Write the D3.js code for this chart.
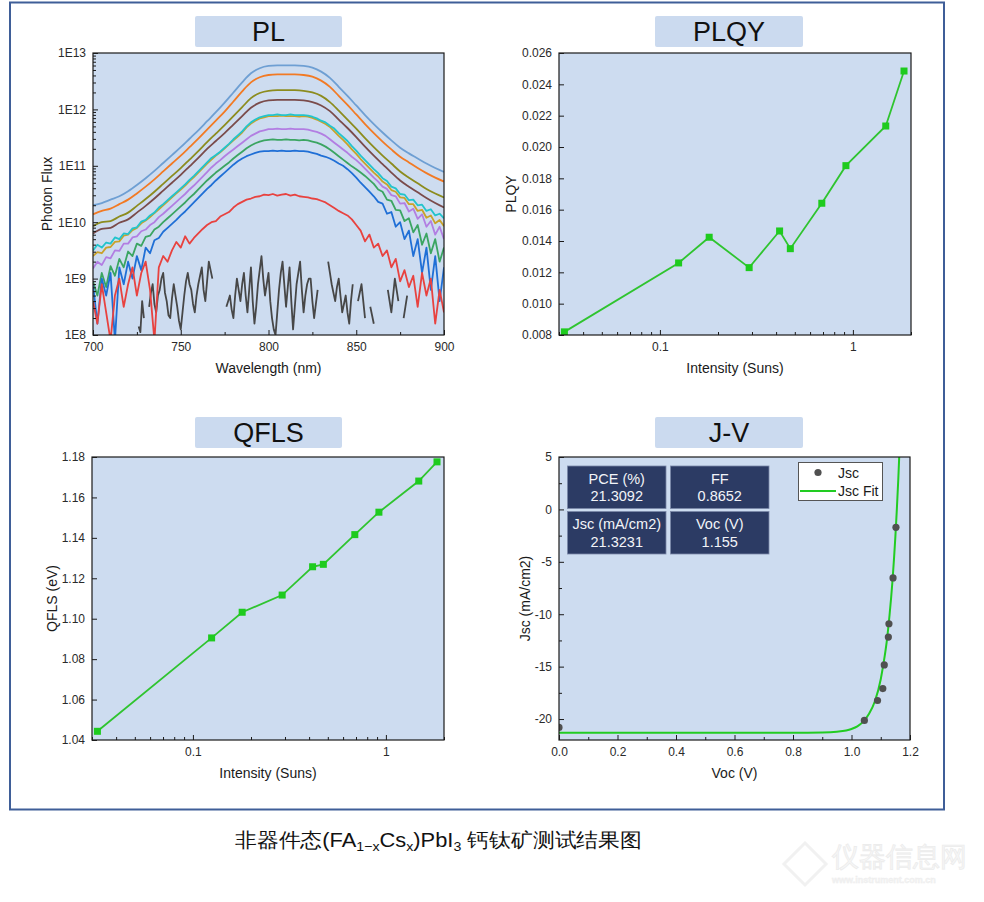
<!DOCTYPE html>
<html><head><meta charset="utf-8">
<script src="https://cdn.jsdelivr.net/npm/d3@7"></script>
<style>
html,body{margin:0;padding:0;background:#fff;}
svg{display:block;}
text{font-family:"Liberation Sans",Arial,sans-serif;}
</style></head><body>
<script>
// ---------------- DATA ----------------
const panelTitles = ["PL", "PLQY", "QFLS", "J-V"];

// PL spectra: wavelength grids (nm) and log10(photon flux)
const plWl5 = [700,705,710,715,720,725,730,735,740,745,750,755,760,765,770,775,780,785,790,795,800,805,810,815,820,825,830,835,840,845,850,855,860,865,870,875,880,885,890,895,900];
const plWl25 = [700,702.5,705,707.5,710,712.5,715,717.5,720,722.5,725,727.5,730,732.5,735,737.5,740,742.5,745,747.5,750,752.5,755,757.5,760,762.5,765,767.5,770,772.5,775,777.5,780,782.5,785,787.5,790,792.5,795,797.5,800,802.5,805,807.5,810,812.5,815,817.5,820,822.5,825,827.5,830,832.5,835,837.5,840,842.5,845,847.5,850,852.5,855,857.5,860,862.5,865,867.5,870,872.5,875,877.5,880,882.5,885,887.5,890,892.5,895,897.5,900];
const plWlDark = [724,725,726,727,728,729,730,731,732,733,734,735,736,737,738,739,740,741,742,743,744,745,746,747,748,749,750,751,752,753,754,755,756,757,758,759,760,761,762,763,764,765,766,767,768,769,770,771,772,773,774,775,776,777,778,779,780,781,782,783,784,785,786,787,788,789,790,791,792,793,794,795,796,797,798,799,800,801,802,803,804,805,806,807,808,809,810,811,812,813,814,815,816,817,818,819,820,821,822,823,824,825,826,827,828,829,830,831,832,833,834,835,836,837,838,839,840,841,842,843,844,845,846,847,848,849,850,851,852,853,854,855,856,857,858,859,860,861,862,863,864,865,866,867,868,869,870,871,872,873,874,875,876,877,878,879,880,881,882];

const plLightBlue = [10.30,10.34,10.40,10.46,10.55,10.66,10.78,10.91,11.05,11.19,11.33,11.48,11.63,11.79,11.95,12.12,12.30,12.48,12.64,12.73,12.77,12.78,12.78,12.78,12.77,12.74,12.67,12.56,12.40,12.24,12.07,11.90,11.74,11.59,11.45,11.32,11.22,11.13,11.04,10.96,10.89];
const plOrange = [10.14,10.20,10.24,10.32,10.40,10.51,10.63,10.76,10.90,11.04,11.18,11.33,11.48,11.64,11.80,11.96,12.14,12.32,12.48,12.57,12.61,12.62,12.62,12.62,12.61,12.58,12.51,12.40,12.24,12.08,11.91,11.74,11.58,11.43,11.29,11.16,11.06,10.96,10.87,10.79,10.72];
const plOlive = [9.93,10.00,10.02,10.10,10.17,10.29,10.41,10.54,10.68,10.82,10.96,11.11,11.26,11.42,11.57,11.72,11.88,12.04,12.20,12.29,12.33,12.34,12.34,12.34,12.33,12.30,12.24,12.13,11.98,11.82,11.66,11.49,11.33,11.18,11.04,10.90,10.79,10.69,10.59,10.51,10.44];
const plBrown = [9.80,9.88,9.90,9.99,10.05,10.17,10.29,10.42,10.56,10.70,10.84,10.99,11.14,11.30,11.44,11.58,11.73,11.88,12.03,12.12,12.16,12.17,12.17,12.17,12.16,12.13,12.07,11.97,11.82,11.67,11.51,11.34,11.18,11.03,10.88,10.74,10.63,10.53,10.43,10.34,10.26];

const plCyan = [9.50,9.60,9.55,9.64,9.62,9.73,9.70,9.80,9.79,9.89,
 9.91,10.01,10.04,10.12,10.17,10.26,10.32,10.39,10.46,10.53,
 10.60,10.67,10.75,10.82,10.90,10.98,11.06,11.14,11.19,11.25,
 11.32,11.39,11.47,11.54,11.61,11.70,11.77,11.82,11.86,11.88,
 11.90,11.90,11.91,11.90,11.90,11.91,11.90,11.90,11.90,11.89,
 11.87,11.84,11.80,11.77,11.71,11.66,11.58,11.51,11.44,11.35,
 11.27,11.18,11.10,11.02,10.94,10.87,10.78,10.73,10.63,10.60,
 10.50,10.49,10.39,10.40,10.30,10.31,10.20,10.23,10.12,10.15,
 10.07];
const plGold = [9.40,9.47,9.45,9.55,9.56,9.65,9.66,9.76,9.78,9.86,
 9.90,9.98,10.03,10.09,10.16,10.23,10.30,10.37,10.44,10.51,
 10.58,10.65,10.73,10.80,10.88,10.96,11.04,11.11,11.18,11.24,
 11.31,11.38,11.45,11.52,11.59,11.68,11.75,11.80,11.84,11.86,
 11.88,11.88,11.88,11.89,11.88,11.88,11.88,11.87,11.88,11.87,
 11.85,11.82,11.78,11.74,11.69,11.61,11.53,11.46,11.38,11.29,
 11.21,11.12,11.04,10.96,10.88,10.81,10.72,10.67,10.57,10.54,
 10.44,10.43,10.32,10.32,10.20,10.22,10.08,10.12,9.98,10.04,
 9.93];
const plPurple = [9.18,9.30,9.24,9.38,9.36,9.50,9.49,9.62,9.62,9.73,
 9.75,9.84,9.87,9.95,10.00,10.09,10.15,10.22,10.29,10.36,
 10.43,10.50,10.58,10.65,10.73,10.81,10.89,10.97,11.04,11.10,
 11.17,11.23,11.29,11.35,11.41,11.47,11.53,11.57,11.61,11.63,
 11.65,11.65,11.66,11.65,11.65,11.66,11.65,11.65,11.65,11.64,
 11.62,11.60,11.57,11.53,11.47,11.41,11.35,11.29,11.23,11.16,
 11.10,11.03,10.95,10.87,10.79,10.72,10.63,10.59,10.48,10.46,
 10.33,10.34,10.19,10.24,10.06,10.14,9.92,10.02,9.78,9.92,
 9.70];
const plGreen = [8.95,8.70,9.10,8.85,9.22,9.05,9.35,9.20,9.48,9.40,
 9.62,9.58,9.74,9.76,9.87,9.92,10.00,10.07,10.14,10.21,
 10.28,10.35,10.43,10.50,10.58,10.66,10.74,10.81,10.88,10.94,
 11.00,11.06,11.13,11.19,11.25,11.31,11.36,11.40,11.43,11.45,
 11.46,11.47,11.46,11.46,11.47,11.46,11.46,11.45,11.46,11.45,
 11.43,11.41,11.38,11.34,11.29,11.23,11.17,11.11,11.05,10.99,
 10.94,10.88,10.82,10.75,10.68,10.58,10.54,10.40,10.38,10.22,
 10.21,10.02,10.07,9.82,9.95,9.60,9.80,9.45,9.70,9.30,
 9.55];
const plBlue = [8.90,8.20,9.00,8.70,9.10,7.90,9.20,8.90,9.30,9.00,
 9.40,9.15,9.55,9.45,9.68,9.72,9.83,9.90,9.97,10.04,
 10.12,10.19,10.27,10.35,10.43,10.51,10.59,10.66,10.74,10.81,
 10.88,10.95,11.02,11.08,11.13,11.17,11.20,11.23,11.25,11.26,
 11.26,11.27,11.26,11.27,11.26,11.26,11.27,11.26,11.26,11.25,
 11.23,11.21,11.18,11.16,11.13,11.09,11.04,11.00,10.94,10.87,
 10.79,10.70,10.62,10.54,10.46,10.36,10.33,10.15,10.18,9.92,
 10.00,9.70,9.85,9.40,9.70,9.10,9.55,8.80,9.40,8.60,
 9.20];
const plRed = [8.60,8.20,8.90,8.40,7.90,8.70,9.00,8.50,8.90,9.20,
 8.70,9.10,9.30,8.80,7.90,9.20,9.40,9.30,9.50,9.65,
 9.55,9.75,9.62,9.72,9.80,9.88,9.95,10.00,10.02,10.10,
 10.14,10.18,10.26,10.32,10.36,10.40,10.42,10.45,10.46,10.49,
 10.48,10.50,10.47,10.49,10.50,10.47,10.49,10.46,10.45,10.44,
 10.42,10.41,10.38,10.35,10.30,10.25,10.20,10.16,10.12,10.05,
 9.95,9.85,9.66,9.78,9.55,9.62,9.40,9.50,9.20,9.35,
 8.95,9.15,8.85,9.05,8.50,9.10,8.70,9.00,8.20,8.80,
 8.40];
// dark (no-excitation) trace: 1 nm steps, gaps where the trace drops out
const plDark = [null,null,8.15,8.05,8.60,8.30,null,null,8.50,8.75,
 8.90,8.55,8.40,8.70,8.80,9.00,9.10,8.75,8.60,8.35,
 8.30,8.65,8.90,8.70,8.50,8.25,8.10,8.40,8.70,8.95,
 9.10,8.90,8.80,8.55,8.40,8.70,8.90,9.05,9.20,8.80,
 8.60,8.95,9.30,9.15,9.00,null,null,null,8.80,null,
 null,null,8.50,8.60,8.70,8.45,8.30,8.70,9.00,8.80,
 8.60,8.90,9.10,8.70,8.40,8.80,9.20,8.60,8.20,8.50,
 8.90,9.15,9.40,9.00,8.70,8.90,9.10,8.60,8.30,8.10,
 8.00,8.40,8.80,9.10,9.30,8.90,8.50,8.85,9.20,8.60,
 8.10,8.50,8.90,9.10,9.30,8.80,8.40,8.70,8.90,9.00,
 9.00,8.60,8.30,8.55,8.80,null,null,null,null,null,
 9.30,9.10,8.90,8.75,8.60,8.85,9.00,8.70,8.40,8.55,
 8.70,8.40,8.20,8.60,8.90,null,null,8.60,8.75,8.90,
 8.60,8.30,null,null,8.50,8.35,8.20,null,null,null,
 null,null,null,null,8.80,8.60,8.40,8.70,9.00,8.80,
 8.60,null,null,8.30,8.50,8.70,null,null,null];

const plXTicks = [700,750,800,850,900];
const plXTickLabels = ["700","750","800","850","900"];
const plXMinor = [725,775,825,875];
const plYTicks = [1e8,1e9,1e10,1e11,1e12,1e13];
const plYTickLabels = ["1E8","1E9","1E10","1E11","1E12","1E13"];

// PLQY & QFLS vs intensity
const intensitySuns = [0.032,0.125,0.18,0.29,0.417,0.474,0.69,0.92,1.48,1.84];
const plqyValues = [0.0082,0.0126,0.01424,0.0123,0.01464,0.01351,0.01641,0.01881,0.02134,0.02485];
const qflsValues = [1.0443,1.0905,1.1032,1.1117,1.1257,1.1269,1.1416,1.1527,1.1681,1.1776];
const intTicks = [0.1,1];
const intTickLabels = ["0.1","1"];
const intMinor = [0.03,0.04,0.05,0.06,0.07,0.08,0.09,0.2,0.3,0.4,0.5,0.6,0.7,0.8,0.9,2];
const plqyTicks = [0.008,0.010,0.012,0.014,0.016,0.018,0.020,0.022,0.024,0.026];
const plqyTickLabels = ["0.008","0.010","0.012","0.014","0.016","0.018","0.020","0.022","0.024","0.026"];
const qflsTicks = [1.04,1.06,1.08,1.10,1.12,1.14,1.16,1.18];
const qflsTickLabels = ["1.04","1.06","1.08","1.10","1.12","1.14","1.16","1.18"];

// J-V
const jscV = [0.0,1.044,1.089,1.107,1.112,1.126,1.128,1.142,1.152];
const jscJ = [-20.8,-20.13,-18.23,-17.09,-14.84,-12.18,-10.91,-6.54,-1.71];
const fitV = [0,0.2,0.4,0.6,0.8,0.9,0.95,1.0,1.02,1.04,1.06,1.08,1.10,1.11,1.12,1.13,1.14,1.15,1.155,1.16,1.165];
const fitJ = [-21.32,-21.32,-21.32,-21.32,-21.32,-21.29,-21.21,-20.95,-20.70,-20.25,-19.50,-18.30,-16.20,-14.60,-12.70,-10.10,-6.85,-2.60,0,2.90,6.30];
const jvXTicks = [0,0.2,0.4,0.6,0.8,1.0,1.2];
const jvXTickLabels = ["0.0","0.2","0.4","0.6","0.8","1.0","1.2"];
const jvXMinor = [0.1,0.3,0.5,0.7,0.9,1.1];
const jvYTicks = [5,0,-5,-10,-15,-20];
const jvYTickLabels = ["5","0","-5","-10","-15","-20"];
const jvYMinor = [2.5,-2.5,-7.5,-12.5,-17.5];
const infoLabels = ["PCE (%)","FF","Jsc (mA/cm2)","Voc (V)"];
const infoValues = ["21.3092","0.8652","21.3231","1.155"];
const legendLabels = ["Jsc","Jsc Fit"];

// ---------------- DRAWING ----------------
const BG = "#cddcf0";
const svg = d3.select("body").append("svg").attr("width",984).attr("height",902);

svg.append("rect").attr("x",10).attr("y",2.5).attr("width",934).attr("height",807)
  .attr("fill","none").attr("stroke","#3f5e98").attr("stroke-width",2);

// title boxes
const titleBoxes = [[195,16,147],[655,16,148],[195,417,147],[655,417,148]];
titleBoxes.forEach((b,i)=>{
  svg.append("rect").attr("x",b[0]).attr("y",b[1]).attr("width",b[2]).attr("height",31)
    .attr("rx",2).attr("fill","#cbdaef");
  svg.append("text").attr("x",b[0]+b[2]/2).attr("y",b[1]+25).attr("text-anchor","middle")
    .attr("font-size",27).attr("fill","#111").text(panelTitles[i]);
});

function plotArea(id,x0,y0,w,h){
  svg.append("rect").attr("x",x0).attr("y",y0).attr("width",w).attr("height",h).attr("fill",BG);
  svg.append("clipPath").attr("id",id).append("rect").attr("x",x0).attr("y",y0).attr("width",w).attr("height",h);
  return svg.append("g").attr("clip-path",`url(#${id})`);
}
function frameAndAxes(p){
  svg.append("rect").attr("x",p.x0).attr("y",p.y0).attr("width",p.w).attr("height",p.h)
    .attr("fill","none").attr("stroke","#1a1a1a").attr("stroke-width",1.2);
  const style = g=>{g.select(".domain").remove();
    g.selectAll("line").attr("stroke","#1a1a1a");
    g.selectAll("text").attr("font-size",12).attr("fill","#2a2a2a").attr("font-family","Liberation Sans, Arial, sans-serif");};
  svg.append("g").attr("transform",`translate(0,${p.y0+p.h})`)
    .call(d3.axisBottom(p.xs).tickValues(p.xt).tickFormat((d,i)=>p.xl[i]).tickSize(-5).tickPadding(7)).call(style);
  if(p.xm) svg.append("g").attr("transform",`translate(0,${p.y0+p.h})`)
    .call(d3.axisBottom(p.xs).tickValues(p.xm).tickFormat("").tickSize(-3)).call(style);
  svg.append("g").attr("transform",`translate(${p.x0},0)`)
    .call(d3.axisLeft(p.ys).tickValues(p.yt).tickFormat((d,i)=>p.yl[i]).tickSize(-5).tickPadding(7)).call(style);
  if(p.ym) svg.append("g").attr("transform",`translate(${p.x0},0)`)
    .call(d3.axisLeft(p.ys).tickValues(p.ym).tickFormat("").tickSize(-3)).call(style);
  svg.append("text").attr("x",p.x0+p.w/2).attr("y",p.y0+p.h+38).attr("text-anchor","middle")
    .attr("font-size",14).attr("fill","#1a1a1a").text(p.xTitle);
  svg.append("text").attr("transform",`translate(${p.yTitleX},${p.y0+p.h/2}) rotate(-90)`)
    .attr("text-anchor","middle").attr("font-size",14).attr("fill","#1a1a1a").text(p.yTitle);
}

// ---- PL ----
{
  const x0=93,y0=53,w=351,h=282;
  const xs=d3.scaleLinear([700,900],[x0,x0+w]);
  const ys=d3.scaleLog([1e8,1e13],[y0+h,y0]);
  const g=plotArea("clipPL",x0,y0,w,h);
  const mk=(wl,vals,curve)=>{const l=d3.line().defined(d=>d[1]!=null)
      .x(d=>xs(d[0])).y(d=>ys(Math.pow(10,d[1])));
    if(curve) l.curve(curve); return l(wl.map((v,i)=>[v,vals[i]]));};
  const series=[
    [plWlDark,plDark,"#474747",null],
    [plWl5,plLightBlue,"#6e9fd3",d3.curveMonotoneX],
    [plWl5,plOrange,"#f27a24",d3.curveMonotoneX],
    [plWl5,plOlive,"#8c8c1e",d3.curveMonotoneX],
    [plWl5,plBrown,"#7a4b4b",d3.curveMonotoneX],
    [plWl25,plGold,"#c9a22a",null],
    [plWl25,plCyan,"#22c4cc",null],
    [plWl25,plPurple,"#b27ee2",null],
    [plWl25,plGreen,"#3ba562",null],
    [plWl25,plBlue,"#1f6fd6",null],
    [plWl25,plRed,"#e8423f",null]
  ];
  series.forEach(s=>{
    g.append("path").attr("d",mk(s[0],s[1],s[3])).attr("fill","none").attr("stroke",s[2])
      .attr("stroke-width",1.8).attr("stroke-linejoin","round");
  });
  const yMinor=[];
  plYTicks.slice(0,-1).forEach(t=>{for(let k=2;k<=9;k++) yMinor.push(t*k);});
  frameAndAxes({x0,y0,w,h,xs,ys,xt:plXTicks,xl:plXTickLabels,xm:plXMinor,yt:plYTicks,yl:plYTickLabels,ym:yMinor,
    xTitle:"Wavelength (nm)",yTitle:"Photon Flux",yTitleX:52});
}

// ---- PLQY & QFLS ----
function intensityPanel(id,x0,y0,w,h,vals,dom,yt,yl,yTitle,yTitleX){
  const xs=d3.scaleLog([0.03,2],[x0,x0+w]);
  const ys=d3.scaleLinear(dom,[y0+h,y0]);
  const g=plotArea(id,x0,y0,w,h);
  const pts=intensitySuns.map((v,i)=>[v,vals[i]]);
  g.append("path").attr("d",d3.line().x(d=>xs(d[0])).y(d=>ys(d[1]))(pts))
    .attr("fill","none").attr("stroke","#2fc42f").attr("stroke-width",1.8);
  g.selectAll(".m").data(pts).join("rect").attr("x",d=>xs(d[0])-3.5).attr("y",d=>ys(d[1])-3.5)
    .attr("width",7).attr("height",7).attr("fill","#1ecb1e");
  frameAndAxes({x0,y0,w,h,xs,ys,xt:intTicks,xl:intTickLabels,xm:intMinor,yt,yl,
    xTitle:"Intensity (Suns)",yTitle,yTitleX});
}
intensityPanel("clipPLQY",559,53,352,282,plqyValues,[0.008,0.026],plqyTicks,plqyTickLabels,"PLQY",516);
intensityPanel("clipQFLS",92,457,352,283,qflsValues,[1.04,1.18],qflsTicks,qflsTickLabels,"QFLS (eV)",57);

// ---- J-V ----
{
  const x0=559,y0=457,w=351,h=283;
  const xs=d3.scaleLinear([0,1.2],[x0,x0+w]);
  const ys=d3.scaleLinear([-22,5],[y0+h,y0]);
  const g=plotArea("clipJV",x0,y0,w,h);
  g.append("path").attr("d",d3.line().curve(d3.curveMonotoneX).x(d=>xs(d[0])).y(d=>ys(d[1]))(fitV.map((v,i)=>[v,fitJ[i]])))
    .attr("fill","none").attr("stroke","#22cc22").attr("stroke-width",2);
  g.selectAll(".p").data(jscV.map((v,i)=>[v,jscJ[i]])).join("circle")
    .attr("cx",d=>xs(d[0])).attr("cy",d=>ys(d[1])).attr("r",3.6).attr("fill","#505050");
  frameAndAxes({x0,y0,w,h,xs,ys,xt:jvXTicks,xl:jvXTickLabels,xm:jvXMinor,yt:jvYTicks,yl:jvYTickLabels,ym:jvYMinor,
    xTitle:"Voc (V)",yTitle:"Jsc (mA/cm2)",yTitleX:530});
  // info boxes
  const boxes=[[567.5,466],[670.5,466],[567.5,511.5],[670.5,511.5]];
  boxes.forEach((b,i)=>{
    svg.append("rect").attr("x",b[0]).attr("y",b[1]).attr("width",98.5).attr("height",42.5)
      .attr("fill","#2c3b64").attr("stroke","#7b88a8").attr("stroke-width",0.8);
    svg.append("text").attr("x",b[0]+49.25).attr("y",b[1]+17.5).attr("text-anchor","middle")
      .attr("font-size",14.5).attr("fill","#f2f4f8").text(infoLabels[i]);
    svg.append("text").attr("x",b[0]+49.25).attr("y",b[1]+35).attr("text-anchor","middle")
      .attr("font-size",14.5).attr("fill","#f2f4f8").text(infoValues[i]);
  });
  // legend
  svg.append("rect").attr("x",798.5).attr("y",462.5).attr("width",84).attr("height",38)
    .attr("fill","#fff").attr("stroke","#555").attr("stroke-width",1);
  svg.append("circle").attr("cx",818).attr("cy",472.5).attr("r",3.6).attr("fill","#505050");
  svg.append("text").attr("x",838).attr("y",477.5).attr("font-size",14).attr("fill","#1a1a1a").text(legendLabels[0]);
  svg.append("line").attr("x1",800).attr("x2",836).attr("y1",491).attr("y2",491).attr("stroke","#22cc22").attr("stroke-width",2);
  svg.append("text").attr("x",838).attr("y",496).attr("font-size",14).attr("fill","#1a1a1a").text(legendLabels[1]);
}

// ---- caption ----
{
  const t=svg.append("text").attr("x",235).attr("y",847).attr("font-size",20)
    .attr("font-family","'Noto Sans CJK SC','Noto Sans',sans-serif").attr("fill","#111")
    .attr("textLength",407).attr("lengthAdjust","spacingAndGlyphs");
  t.append("tspan").text("非器件态(FA");
  t.append("tspan").attr("font-size",13).attr("dy",4).text("1−x");
  t.append("tspan").attr("dy",-4).text("Cs");
  t.append("tspan").attr("font-size",13).attr("dy",4).text("x");
  t.append("tspan").attr("dy",-4).text(")PbI");
  t.append("tspan").attr("font-size",13).attr("dy",4).text("3");
  t.append("tspan").attr("dy",-4).text(" 钙钛矿测试结果图");
}

// ---- faint watermark ----
{
  svg.append("path").attr("d","M805,843 L826,864 L805,885 L784,864 Z").attr("fill","none")
    .attr("stroke","#f1f1f1").attr("stroke-width",3);
  svg.append("text").attr("x",832).attr("y",866).attr("font-size",27)
    .attr("font-family","'Noto Sans CJK SC',sans-serif").attr("fill","#f7f7f7")
    .attr("stroke","#ececec").attr("stroke-width",0.8).text("仪器信息网");
  svg.append("text").attr("x",832).attr("y",883).attr("font-size",9).attr("font-weight","bold")
    .attr("fill","#f3f3f3").attr("stroke","#ededed").attr("stroke-width",0.4).text("www.instrument.com.cn");
}
</script>
</body></html>
